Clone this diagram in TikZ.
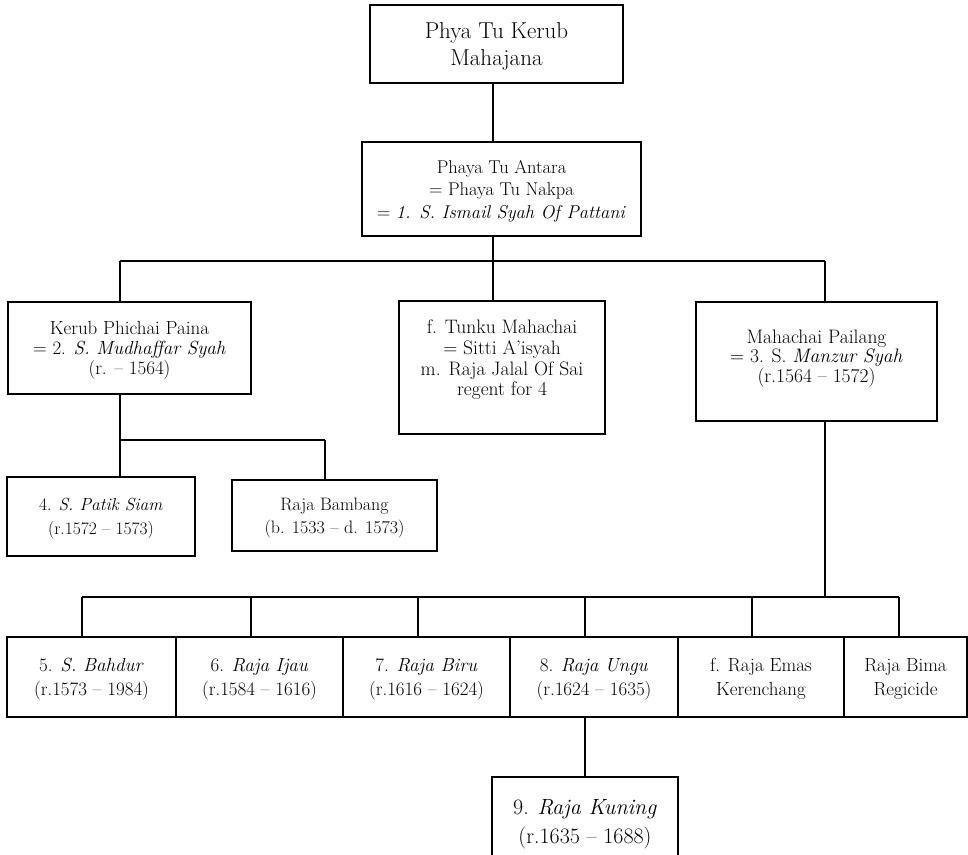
\documentclass[tikz,border=0pt]{standalone}
\usepackage{fontspec}
\tikzset{
  box/.style={draw, line width=1.5pt, align=center, inner sep=0pt, text depth=0pt},
  link/.style={line width=1.5pt},
}
\newcommand{\fs}[2]{\fontsize{#1}{#2}\selectfont}
\begin{document}
\begin{tikzpicture}[x=1pt,y=-1pt]
\clip (0,0) rectangle (968,854);
\fill[white] (0,0) rectangle (968,854);

% generation 1
\node[box, minimum width=253, minimum height=78, font=\fs{23}{27.5}] (top) at (496.5,44) {Phya Tu Kerub\\Mahajana};
% generation 2
\node[box, minimum width=279, minimum height=94, font=\fs{18.5}{22.5}] (antara) at (501.5,189) {Phaya Tu Antara\\= Phaya Tu Nakpa\\= \textit{1. S. Ismail Syah Of Pattani}};
% generation 3
\node[box, minimum width=243, minimum height=92, font=\fs{19}{20}] (kerub) at (129.5,348) {Kerub Phichai Paina\\= 2. \textit{S. Mudhaffar Syah}\\(r. -- 1564)};
\node[box, minimum width=206, minimum height=133, font=\fs{19.5}{20.7}] (tunku) at (502,367.5) {f. Tunku Mahachai\\= Sitti A’isyah\\m. Raja Jalal Of Sai\\regent for 4\\[-1.5pt]};
\node[box, minimum width=241, minimum height=119, font=\fs{19.5}{19.5}] (mahachai) at (816.5,361.5) {Mahachai Pailang\\= 3. S. \textit{Manzur Syah}\\(r.1564 -- 1572)\\[-8.5pt]};
% children of Kerub
\node[box, minimum width=188, minimum height=79, font=\fs{17.5}{24}] (patik) at (101,516.5) {4. \textit{S. Patik Siam}\\(r.1572 -- 1573)};
\node[box, minimum width=205, minimum height=71, font=\fs{18}{23.5}] (bambang) at (334.5,515.5) {Raja Bambang\\(b. 1533 -- d. 1573)};
% children of Mahachai
\node[box, minimum width=169, minimum height=80, font=\fs{19}{24}] (c5) at (91.5,677) {5. \textit{S. Bahdur}\\(r.1573 -- 1984)};
\node[box, minimum width=167, minimum height=80, font=\fs{19}{24}] (c6) at (259.5,677) {6. \textit{Raja Ijau}\\(r.1584 -- 1616)};
\node[box, minimum width=167, minimum height=80, font=\fs{19}{24}] (c7) at (426.5,677) {7. \textit{Raja Biru}\\(r.1616 -- 1624)};
\node[box, minimum width=168, minimum height=80, font=\fs{19}{24}] (c8) at (594,677) {8. \textit{Raja Ungu}\\(r.1624 -- 1635)};
\node[box, minimum width=166, minimum height=80, font=\fs{19}{24}] (c9) at (761,677) {f. Raja Emas\\Kerenchang};
\node[box, minimum width=123, minimum height=80, font=\fs{19}{24}] (c10) at (905.5,677) {Raja Bima\\Regicide};
% grandchild
\node[box, minimum width=186, minimum height=88, font=\fs{22}{29}] (kuning) at (585,821) {9. \textit{Raja Kuning}\\(r.1635 -- 1688)};

% bar coordinates: children of Phaya Tu Antara
\coordinate (a0) at (493,261);
\coordinate (a1) at (120,261);
\coordinate (a3) at (825,261);
% children of Kerub Phichai Paina
\coordinate (b1) at (120,440);
\coordinate (b2) at (325,440);
% children of Mahachai Pailang
\coordinate (c0) at (825,597);
\coordinate (d5) at (82,597);
\coordinate (d6) at (251,597);
\coordinate (d7) at (418,597);
\coordinate (d8) at (585,597);
\coordinate (d9) at (752,597);
\coordinate (d10) at (899,597);

% connectors
\draw[link] (top.south -| a0) -- (antara.north -| a0);
\draw[link] (antara.south -| a0) -- (a0);
\draw[link] (a1) -- (a3);
\draw[link] (a1) -- (a1 |- kerub.north);
\draw[link] (a0) -- (a0 |- tunku.north);
\draw[link] (a3) -- (a3 |- mahachai.north);

\draw[link] (kerub.south -| b1) -- (b1);
\draw[link] (b1) -- (b2);
\draw[link] (b1) -- (b1 |- patik.north);
\draw[link] (b2) -- (b2 |- bambang.north);

\draw[link] (mahachai.south -| c0) -- (c0);
\draw[link] (d5) -- (d10);
\draw[link] (d5) -- (d5 |- c5.north);
\draw[link] (d6) -- (d6 |- c6.north);
\draw[link] (d7) -- (d7 |- c7.north);
\draw[link] (d8) -- (d8 |- c8.north);
\draw[link] (d9) -- (d9 |- c9.north);
\draw[link] (d10) -- (d10 |- c10.north);
\draw[link] (c8.south -| d8) -- (kuning.north -| d8);
\end{tikzpicture}
\end{document}
